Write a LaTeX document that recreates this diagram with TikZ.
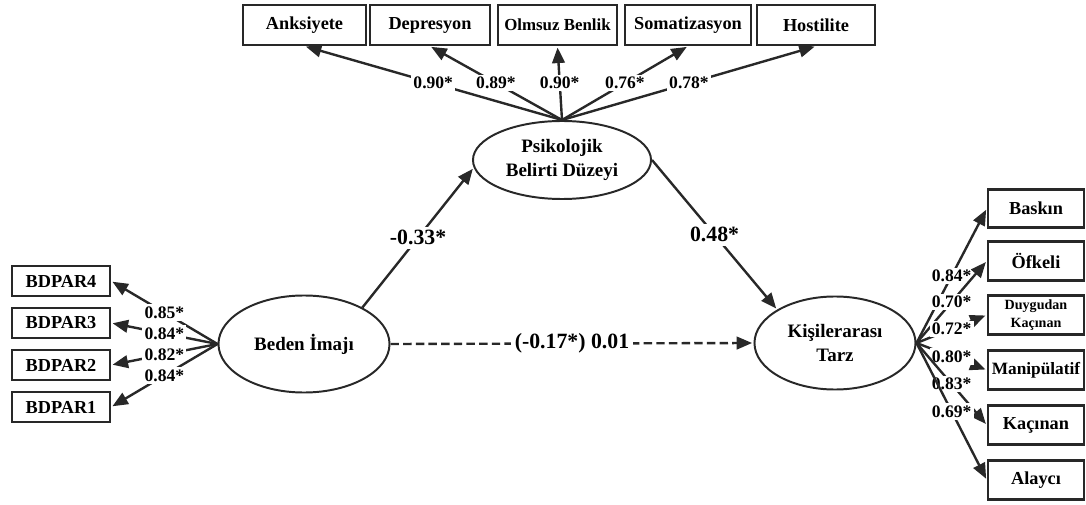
\documentclass[tikz,border=0pt]{standalone}
\usepackage{fontspec}
\setmainfont{Liberation Serif}
\usetikzlibrary{arrows.meta,positioning,shapes.geometric}
\definecolor{inkgray}{RGB}{40,40,40}

\begin{document}
\begin{tikzpicture}[
    x=0.025cm, y=-0.025cm,
    obsbox/.style={draw=inkgray, line width=1.7pt, fill=white, minimum height=1cm, inner sep=2pt, font=\bfseries\fontsize{13}{15}\selectfont},
    latent/.style={ellipse, draw=inkgray, line width=1.4pt, align=center, inner sep=0pt, font=\bfseries\fontsize{13.5}{17}\selectfont},
    arr/.style={-{Triangle[length=11pt,width=9pt]}, line width=1.7pt, draw=inkgray, shorten >=1pt},
    load/.style={fill=white, inner sep=1.5pt, font=\bfseries\fontsize{12.5}{14}\selectfont},
    coef/.style={fill=white, inner sep=2.5pt, font=\bfseries\fontsize{15.5}{17}\selectfont}
]
\useasboundingbox (0,0) rectangle (1086,505);

% latent variables
\node[latent, minimum width=4.45cm, minimum height=1.95cm] (psik) at (562,160) {Psikolojik\\Belirti Düzeyi};
\node[latent, minimum width=4.275cm, minimum height=2.425cm] (beden) at (304,344) {Beden İmajı};
\node[latent, minimum width=4.025cm, minimum height=2.325cm] (kisi) at (835,343) {Kişilerarası\\Tarz};

% indicators of Psikolojik Belirti Düzeyi
\node[obsbox, minimum width=3.075cm] (anks) at (304.5,25) {Anksiyete};
\node[obsbox, minimum width=3cm] (depr) at (430,25) {Depresyon};
\node[obsbox, minimum width=2.975cm, font=\bfseries\fontsize{12}{14}\selectfont] (olms) at (557.5,25) {Olmsuz Benlik};
\node[obsbox, minimum width=3.15cm] (soma) at (688,25) {Somatizasyon};
\node[obsbox, minimum width=2.95cm] (host) at (816,25) {Hostilite};

% indicators of Beden Imaji
\node[obsbox, minimum width=2.45cm, minimum height=0.75cm] (bd4) at (61,281) {BDPAR4};
\node[obsbox, minimum width=2.45cm, minimum height=0.75cm] (bd3) at (61,323) {BDPAR3};
\node[obsbox, minimum width=2.45cm, minimum height=0.75cm] (bd2) at (61,365) {BDPAR2};
\node[obsbox, minimum width=2.45cm, minimum height=0.75cm] (bd1) at (61,407) {BDPAR1};

% indicators of Kisilerarasi Tarz
\node[obsbox, minimum width=2.4cm, minimum height=0.95cm] (bask) at (1036,208.5) {Baskın};
\node[obsbox, minimum width=2.4cm, minimum height=0.975cm] (ofke) at (1036,261) {Öfkeli};
\node[obsbox, minimum width=2.4cm, minimum height=0.975cm, align=center, font=\bfseries\fontsize{10}{13}\selectfont] (duyg) at (1036,315) {Duygudan\\Kaçınan};
\node[obsbox, minimum width=2.4cm, minimum height=0.975cm, inner sep=0pt, font=\bfseries\fontsize{12.3}{14}\selectfont] (mani) at (1036,370) {Manipülatif};
\node[obsbox, minimum width=2.4cm, minimum height=0.975cm] (kaci) at (1036,425) {Kaçınan};
\node[obsbox, minimum width=2.4cm, minimum height=0.975cm] (alay) at (1036,480) {Alaycı};

% loadings
\draw[arr] (psik.north) -- node[load] {0.90*} (anks.south);
\draw[arr] (psik.north) -- node[load] {0.89*} (depr.south);
\draw[arr] (psik.north) -- node[load] {0.90*} (olms.south);
\draw[arr] (psik.north) -- node[load] {0.76*} (soma.south);
\draw[arr] (psik.north) -- node[load] {0.78*} (host.south);

\draw[arr] (beden.west) -- node[load] {0.85*} (bd4.east);
\draw[arr] (beden.west) -- node[load] {0.84*} (bd3.east);
\draw[arr] (beden.west) -- node[load] {0.82*} (bd2.east);
\draw[arr] (beden.west) -- node[load] {0.84*} (bd1.east);

\draw[arr] (kisi.east) -- node[load] {0.84*} (bask.west);
\draw[arr] (kisi.east) -- node[load] {0.70*} (ofke.west);
\draw[arr] (kisi.east) -- node[load] {0.72*} (duyg.west);
\draw[arr] (kisi.east) -- node[load] {0.80*} (mani.west);
\draw[arr] (kisi.east) -- node[load] {0.83*} (kaci.west);
\draw[arr] (kisi.east) -- node[load] {0.69*} (alay.west);

% structural paths
\draw[arr] (beden.32) -- node[coef] {-0.33*} (psik.185);
\draw[arr] (psik.east) -- node[coef] {0.48*} (kisi.150);
\draw[arr, dash pattern=on 6pt off 3pt] (beden.east) -- node[coef] {(-0.17*) 0.01} (kisi.west);
\end{tikzpicture}
\end{document}
